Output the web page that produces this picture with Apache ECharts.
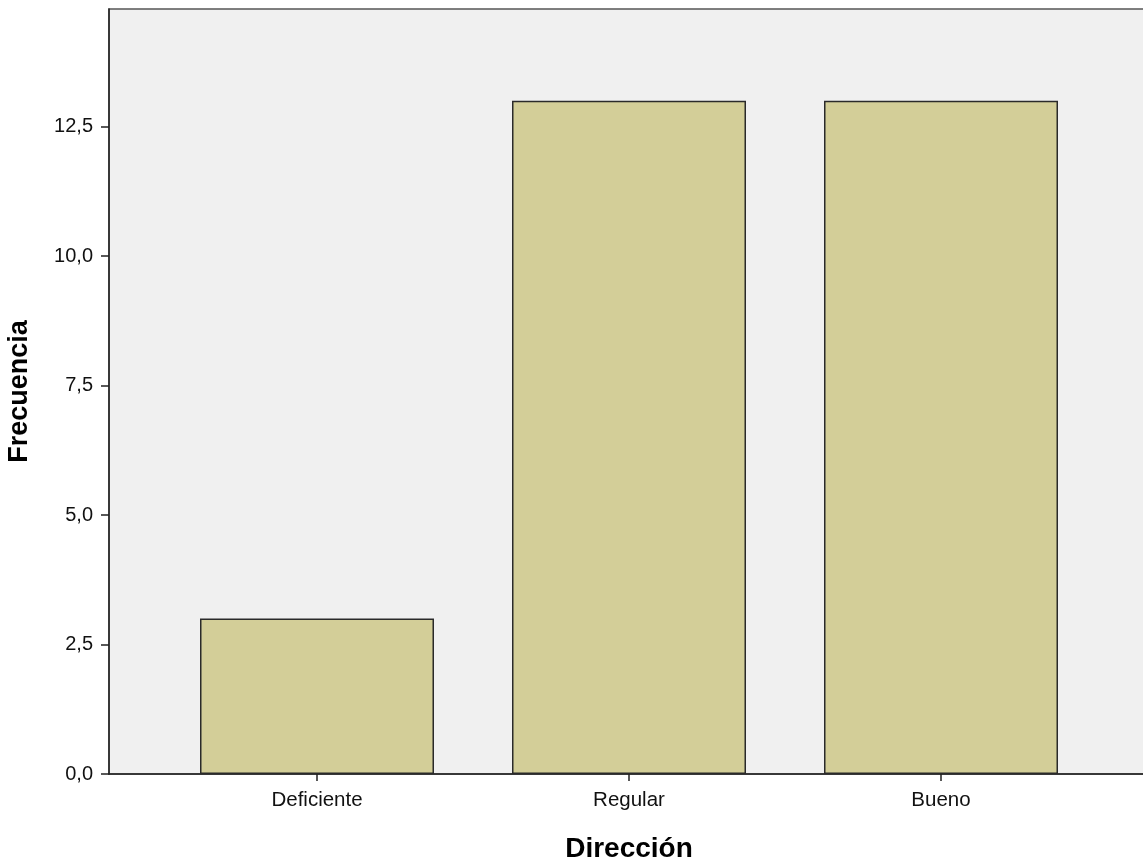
<!DOCTYPE html>
<html>
<head>
<meta charset="utf-8">
<script src="https://cdn.jsdelivr.net/npm/echarts@6/dist/echarts.min.js"></script>
<style>
html,body{margin:0;padding:0;background:#fff;}
#chart{width:1143px;height:863px;}
</style>
</head>
<body>
<div id="chart"></div>
<script>
var categories = ['Deficiente', 'Regular', 'Bueno'];
var frecuencia = [3, 13, 13];
var yTicks = [0, 2.5, 5, 7.5, 10, 12.5];
var xTitle = 'Dirección';
var yTitle = 'Frecuencia';

var chart = echarts.init(document.getElementById('chart'));
var barData = categories.map(function (c, i) { return [i, frecuencia[i]]; });
var catIdx = categories.map(function (c, i) { return i; });

chart.setOption({
  animation: false,
  grid: {
    left: 109, top: 9, width: 1040, height: 765,
    outerBoundsMode: 'none', containLabel: false,
    show: true, backgroundColor: '#f0f0f0', borderColor: '#555', borderWidth: 1.5
  },
  xAxis: {
    type: 'value',
    min: -2 / 3, max: 8 / 3,
    name: xTitle,
    nameLocation: 'middle',
    nameGap: 61,
    nameTextStyle: { fontFamily: 'Liberation Sans', fontWeight: 'bold', fontSize: 28, color: '#000' },
    axisLine: { show: true, onZero: false, lineStyle: { color: '#222', width: 1.5 } },
    axisTick: { show: true, length: 7, customValues: catIdx, lineStyle: { color: '#222', width: 1.5 } },
    axisLabel: {
      customValues: catIdx, margin: 16,
      fontFamily: 'Liberation Sans', fontSize: 20.5, color: '#111',
      formatter: function (v) { return categories[Math.round(v)]; }
    },
    splitLine: { show: false }
  },
  yAxis: {
    type: 'value',
    min: 0, max: 14.77,
    name: yTitle,
    nameLocation: 'middle',
    nameGap: 76,
    nameTextStyle: { fontFamily: 'Liberation Sans', fontWeight: 'bold', fontSize: 27, color: '#000' },
    axisLine: { show: true, onZero: false, lineStyle: { color: '#222', width: 1.5 } },
    axisTick: { show: true, length: 8, customValues: yTicks, lineStyle: { color: '#222', width: 1.5 } },
    axisLabel: {
      customValues: yTicks, margin: 16,
      fontFamily: 'Liberation Sans', fontSize: 20, color: '#111',
      formatter: function (v) { return v.toFixed(1).replace('.', ','); }
    },
    splitLine: { show: false }
  },
  series: [{
    type: 'bar',
    data: barData,
    barWidth: 234,
    itemStyle: { color: '#d3ce98', borderColor: '#2a2a2a', borderWidth: 1.5 }
  }]
});
</script>
</body>
</html>
